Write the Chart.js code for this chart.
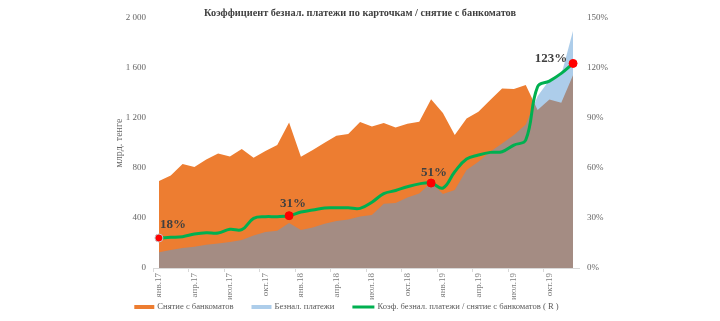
<!DOCTYPE html>
<html>
<head>
<meta charset="utf-8">
<script src="https://cdn.jsdelivr.net/npm/chart.js@4/dist/chart.umd.min.js"></script>
<style>
  html, body { margin: 0; padding: 0; background: #ffffff; }
  #wrap { width: 720px; height: 321px; }
</style>
</head>
<body>
<div id="wrap"><canvas id="c" width="720" height="321"></canvas></div>
<script>
// ---- data ----
const months = [
  'янв.17','фев.17','мар.17','апр.17','май.17','июн.17','июл.17','авг.17','сен.17','окт.17','ноя.17','дек.17',
  'янв.18','фев.18','мар.18','апр.18','май.18','июн.18','июл.18','авг.18','сен.18','окт.18','ноя.18','дек.18',
  'янв.19','фев.19','мар.19','апр.19','май.19','июн.19','июл.19','авг.19','сен.19','окт.19','ноя.19','дек.19'
];
const atmWithdrawals = [
  695, 740, 832, 808, 869, 917, 893, 952, 883, 936, 984, 1165,
  891, 944, 1003, 1059, 1072, 1168, 1133, 1160, 1125, 1155, 1171, 1350,
  1240, 1064, 1197, 1251, 1344, 1437, 1432, 1464, 1265, 1349, 1323, 1544
];
// Безнал. платежи, млрд. тенге
const cashlessPayments = [
  125, 144, 160, 171, 187, 197, 208, 224, 261, 288, 299, 360,
  304, 325, 355, 376, 389, 413, 424, 515, 520, 565, 597, 685,
  592, 624, 784, 851, 931, 997, 1064, 1149, 1375, 1505, 1545, 1900
];
const ratioPct = [
  18.0, 18.4, 18.8, 20.4, 21.2, 21.0, 23.2, 23.0, 29.8, 30.8, 30.8, 31.4,
  33.6, 34.8, 36.0, 36.1, 36.1, 35.8, 39.5, 44.6, 46.5, 48.8, 50.5, 51.0,
  48.0, 57.8, 65.4, 67.8, 69.4, 69.8, 73.8, 76.8, 108.8, 112.2, 116.8, 122.8
];
const highlighted = [0, 11, 23, 35];
const leftTicks = [0, 400, 800, 1200, 1600, 2000];
const rightTicks = [0, 30, 60, 90, 120, 150];
const seriesNames = [
  'Снятие с банкоматов',
  'Безнал. платежи',
  'Коэф. безнал. платежи / снятие с банкоматов ( R )'
];

const SERIF = "'Liberation Serif', 'Times New Roman', serif";
const ORANGE = '#ED7D31';
const BLUE_A = 'rgba(91,155,213,0.5)';
const GREEN = '#00B050';

function fmtThousands(v) {
  if (v >= 1000) return Math.floor(v / 1000) + ' ' + String(v % 1000).padStart(3, '0');
  return String(v);
}

const labelOffsets = { 0: [14, -13], 11: [4, -12], 23: [3, -10], 35: [-22, -5] };

const pointLabels = {
  id: 'pointLabels',
  afterDatasetsDraw(chart) {
    const meta = chart.getDatasetMeta(2);
    const ctx = chart.ctx;
    ctx.save();
    ctx.font = "bold 13px " + SERIF;
    ctx.fillStyle = '#404040';
    ctx.textAlign = 'center';
    ctx.textBaseline = 'middle';
    highlighted.forEach(i => {
      const p = meta.data[i];
      const off = labelOffsets[i];
      ctx.fillText(Math.round(ratioPct[i]) + '%', p.x + off[0], p.y + off[1]);
    });
    ctx.restore();
  }
};

// legend drawn below the x axis, centred like the reference
const bottomLegend = {
  id: 'bottomLegend',
  afterDraw(chart) {
    const ctx = chart.ctx;
    const ds = chart.data.datasets;
    const items = [
      { text: seriesNames[0], color: ds[0].backgroundColor, w: 20, h: 4 },
      { text: seriesNames[1], color: ds[1].backgroundColor, w: 20, h: 4 },
      { text: seriesNames[2], color: ds[2].borderColor, w: 22, h: 3 }
    ];
    ctx.save();
    ctx.font = "8.6px " + SERIF;
    const gapText = 3, gapItem = 18;
    let total = 0;
    items.forEach((it, k) => {
      it.tw = ctx.measureText(it.text).width;
      total += it.w + gapText + it.tw + (k < items.length - 1 ? gapItem : 0);
    });
    const centerX = 346.5, cy = 307;
    let x = centerX - total / 2;
    ctx.textBaseline = 'middle';
    ctx.textAlign = 'left';
    items.forEach(it => {
      ctx.fillStyle = it.color;
      ctx.fillRect(x, cy - it.h / 2, it.w, it.h);
      x += it.w + gapText;
      ctx.fillStyle = '#595959';
      ctx.fillText(it.text, x, cy);
      x += it.tw + gapItem;
    });
    ctx.restore();
  }
};

const chart = new Chart(document.getElementById('c'), {
  type: 'line',
  data: {
    labels: months,
    datasets: [
      {
        label: seriesNames[0],
        data: atmWithdrawals,
        yAxisID: 'y',
        backgroundColor: ORANGE,
        borderColor: ORANGE,
        borderWidth: 0,
        pointRadius: 0,
        fill: 'origin',
        tension: 0,
        order: 2
      },
      {
        label: seriesNames[1],
        data: cashlessPayments,
        yAxisID: 'y',
        backgroundColor: BLUE_A,
        borderColor: 'rgba(0,0,0,0)',
        borderWidth: 0,
        pointRadius: 0,
        fill: 'origin',
        tension: 0,
        order: 1
      },
      {
        label: seriesNames[2],
        data: ratioPct,
        yAxisID: 'y1',
        borderColor: GREEN,
        backgroundColor: GREEN,
        borderWidth: 3,
        fill: false,
        tension: 0.4,
        pointRadius: ctx => highlighted.includes(ctx.dataIndex) ? 4 : 0,
        pointHoverRadius: ctx => highlighted.includes(ctx.dataIndex) ? 4 : 0,
        pointBackgroundColor: '#FF0000',
        pointBorderColor: ctx => ctx.dataIndex === 0 ? '#C8C8C8' : '#FF0000',
        pointBorderWidth: 1,
        order: 0
      }
    ]
  },
  options: {
    responsive: false,
    animation: false,
    events: [],
    layout: { padding: { left: 100, right: 100, top: 0, bottom: 21 } },
    plugins: {
      title: {
        display: true,
        text: 'Коэффициент безнал. платежи по карточкам / снятие с банкоматов',
        color: '#404040',
        font: { family: SERIF, size: 10.3, weight: 'bold', lineHeight: 1 },
        padding: { top: 7.8, bottom: 0 }
      },
      legend: { display: false },
      tooltip: { enabled: false }
    },
    scales: {
      x: {
        offset: true,
        grid: {
          offset: true,
          drawOnChartArea: false,
          drawTicks: true,
          tickLength: 4,
          color: ctx => (ctx.index % 3 === 0) ? '#D9D9D9' : 'rgba(0,0,0,0)'
        },
        border: { display: true, color: '#D9D9D9', width: 1 },
        ticks: {
          autoSkip: false,
          minRotation: 90,
          maxRotation: 90,
          padding: 1,
          color: '#7F7F7F',
          font: { family: SERIF, size: 9 },
          callback: (v, i) => (i % 3 === 0) ? months[i] : ''
        },
        afterFit: s => { s.height = 32; }
      },
      y: {
        position: 'left',
        min: 0,
        max: 2000,
        grid: { display: false, drawTicks: false },
        border: { display: false },
        afterBuildTicks: s => { s.ticks = leftTicks.map(v => ({ value: v })); },
        ticks: {
          padding: 7,
          color: '#666666',
          font: { family: SERIF, size: 9 },
          callback: v => fmtThousands(v)
        },
        title: {
          display: true,
          text: 'млрд. тенге',
          color: '#666666',
          font: { family: SERIF, size: 10 },
          padding: { top: 13, bottom: 0 }
        },
        afterFit: s => { s.width = 53; }
      },
      y1: {
        position: 'right',
        min: 0,
        max: 150,
        grid: { display: false, drawTicks: false },
        border: { display: false },
        afterBuildTicks: s => { s.ticks = rightTicks.map(v => ({ value: v })); },
        ticks: {
          padding: 8,
          color: '#666666',
          font: { family: SERIF, size: 9 },
          callback: v => v + '%'
        },
        afterFit: s => { s.width = 41; }
      }
    }
  },
  plugins: [pointLabels, bottomLegend]
});
</script>
</body>
</html>
